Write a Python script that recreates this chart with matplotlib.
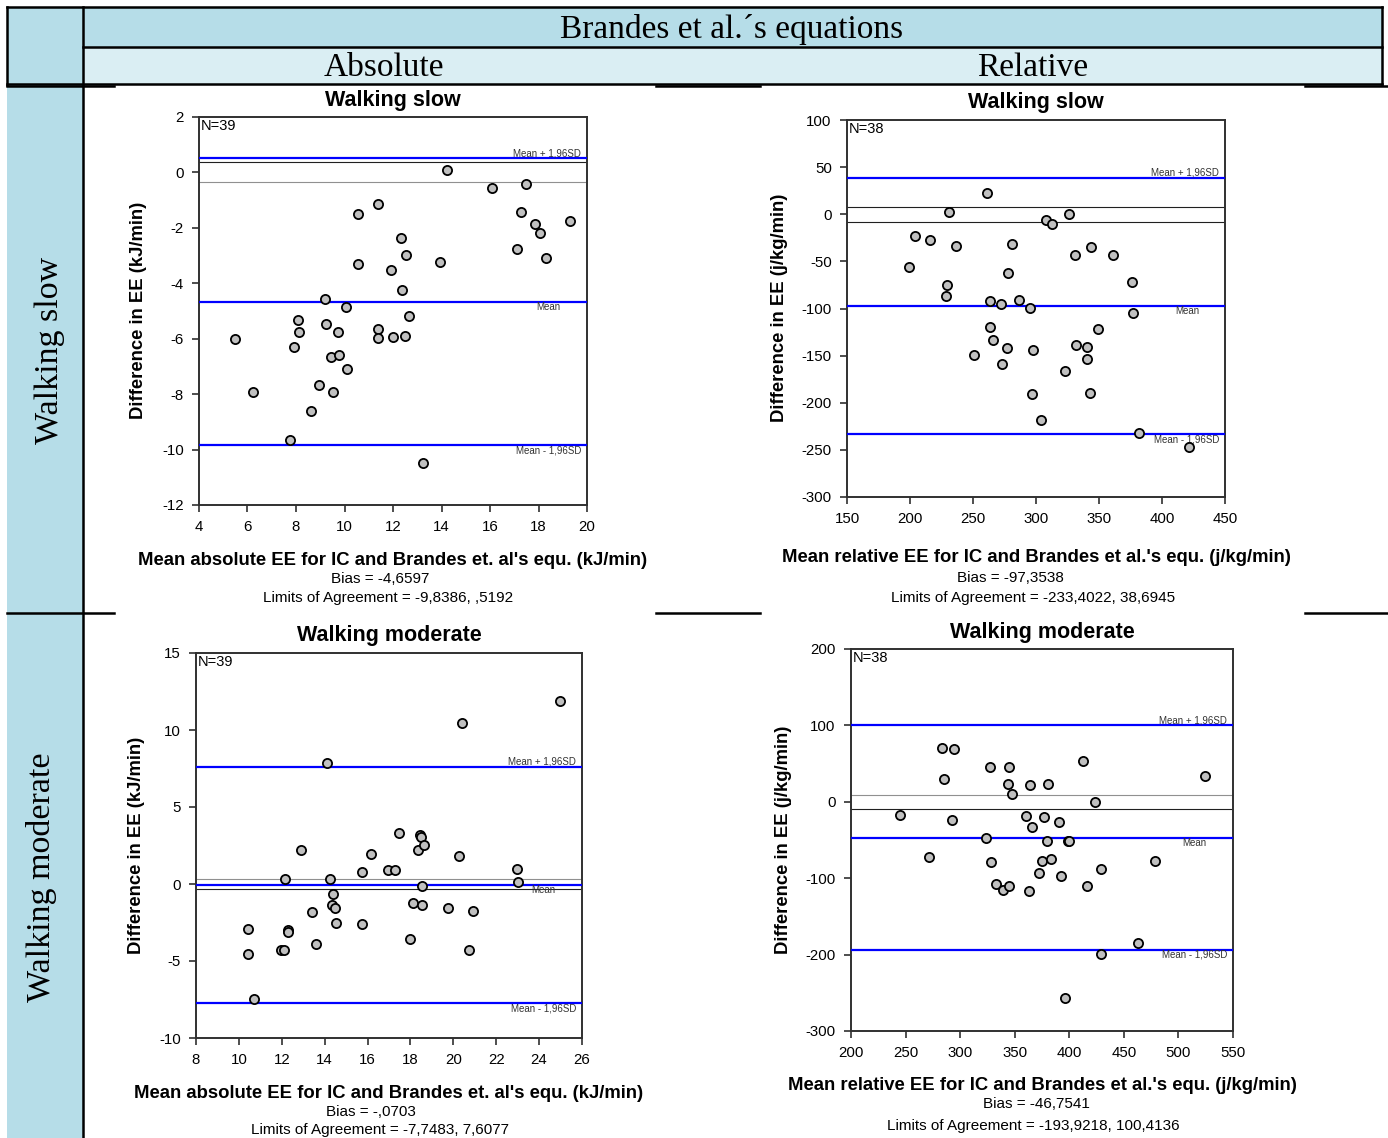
import numpy as np
import matplotlib.pyplot as plt
from matplotlib.patches import Rectangle

plt.rcParams['font.family'] = ['Liberation Sans', 'DejaVu Sans']
plt.rcParams['axes.unicode_minus'] = False

# Walking slow, absolute (kJ/min)
slow_abs_x = [5.48, 6.24, 7.75, 7.92, 8.07, 8.14, 8.62, 8.95, 9.18, 9.22, 9.43, 9.54, 9.75,
              9.79, 10.08, 10.12, 10.56, 10.56, 11.37, 11.40, 11.40, 11.92, 11.99, 12.32,
              12.39, 12.50, 12.55, 12.66, 13.25, 13.94, 14.21, 16.07, 17.10, 17.28, 17.48,
              17.86, 18.06, 18.31, 19.30]
slow_abs_y = [-6.02, -7.94, -9.66, -6.30, -5.33, -5.75, -8.62, -7.66, -4.57, -5.48, -6.66,
              -7.91, -5.75, -6.60, -4.87, -7.08, -1.49, -3.32, -1.15, -5.65, -5.99, -3.53,
              -5.95, -2.38, -4.23, -5.90, -2.99, -5.17, -10.47, -3.23, 0.10, -0.57, -2.76,
              -1.41, -0.43, -1.87, -2.18, -3.09, -1.74]

# Walking slow, relative (j/kg/min)
slow_rel_x = [199.2, 204.0, 215.9, 228.6, 229.6, 231.2, 236.8, 251.1, 260.9, 263.5, 263.5,
              265.6, 272.0, 273.0, 277.0, 277.8, 280.7, 286.3, 295.5, 296.9, 297.4, 304.2,
              307.9, 312.4, 323.3, 326.2, 331.2, 331.8, 340.2, 340.2, 343.1, 344.0, 349.0,
              361.4, 375.9, 376.7, 381.7, 421.7]
slow_rel_y = [-56.3, -22.7, -27.0, -86.4, -75.1, 2.1, -34.0, -149.3, 22.5, -91.7, -119.6,
              -133.8, -95.6, -158.9, -141.9, -62.0, -31.2, -90.6, -99.1, -190.7, -144.4,
              -218.0, -5.8, -10.3, -166.7, 0.0, -43.2, -138.4, -141.2, -153.2, -190.0, -34.7,
              -121.4, -43.2, -71.5, -105.1, -232.4, -246.6]

# Walking moderate, absolute (kJ/min)
mod_abs_x = [10.44, 10.44, 10.72, 11.95, 12.09, 12.17, 12.27, 12.30, 12.91, 13.41, 13.60,
             14.11, 14.23, 14.37, 14.34, 14.48, 14.51, 15.73, 15.73, 16.15, 16.97, 17.28,
             17.45, 17.97, 18.14, 18.37, 18.43, 18.48, 18.65, 18.54, 18.54, 19.75, 20.28,
             20.42, 20.72, 20.92, 22.97, 23.02, 24.98]
mod_abs_y = [-2.94, -4.55, -7.47, -4.27, -4.27, 0.34, -2.99, -3.12, 2.19, -1.80, -3.90,
             7.88, 0.32, -0.67, -1.36, -1.56, -2.53, 0.80, -2.60, 1.97, 0.91, 0.91, 3.31,
             -3.57, -1.23, 2.19, 3.20, 3.07, 2.53, -0.11, -1.36, -1.56, 1.84, 10.43, -4.27,
             -1.75, 0.99, 0.13, 11.86]

# Walking moderate, relative (j/kg/min)
mod_rel_x = [244.9, 271.8, 283.4, 285.5, 292.2, 294.1, 323.7, 327.7, 328.0, 332.9, 339.0,
             344.1, 344.5, 344.5, 347.5, 360.0, 363.1, 364.3, 365.8, 372.5, 375.3, 376.5,
             379.9, 380.8, 383.5, 390.9, 392.7, 396.1, 398.5, 399.7, 412.9, 416.0, 423.9,
             429.1, 429.4, 463.3, 478.9, 524.1]
mod_rel_y = [-16.9, -72.3, 70.8, 30.2, -23.8, 68.7, -47.0, 46.0, -78.4, -107.6, -115.0,
             23.3, 45.6, -109.8, 9.8, -18.2, -117.2, 22.4, -33.4, -93.2, -77.1, -19.5,
             -51.7, 22.8, -74.9, -26.4, -97.5, -256.4, -51.7, -51.7, 53.4, -109.8, 0.1,
             -88.0, -199.6, -184.8, -77.1, 33.8]

# bias and limits of agreement as printed
bias = [-4.6597, -97.3538, -0.0703, -46.7541]
loa_low = [-9.8386, -233.4022, -7.7483, -193.9218]
loa_high = [0.5192, 38.6945, 7.6077, 100.4136]
bias_txt = ['-4,6597', '-97,3538', '-,0703', '-46,7541']
loa_txt = ['-9,8386, ,5192', '-233,4022, 38,6945', '-7,7483, 7,6077', '-193,9218, 100,4136']
n_obs = [39, 38, 39, 38]
# thin reference lines near zero (upper, lower)
ref_up = [0.365, 8.0, 0.32, 9.0]
ref_dn = [-0.33, -8.0, -0.32, -10.0]
ref_up_col = ['#202020', '#202020', '#909090', '#909090']
ref_dn_col = ['#909090', '#202020', '#202020', '#202020']

titles = ['Walking slow', 'Walking slow', 'Walking moderate', 'Walking moderate']
xlabels = ["Mean absolute EE for IC and Brandes et. al's equ. (kJ/min)",
           "Mean relative EE for IC and Brandes et al.'s equ. (j/kg/min)",
           "Mean absolute EE for IC and Brandes et. al's equ. (kJ/min)",
           "Mean relative EE for IC and Brandes et al.'s equ. (j/kg/min)"]
ylabels = ['Difference in EE (kJ/min)', 'Difference in EE (j/kg/min)',
           'Difference in EE (kJ/min)', 'Difference in EE (j/kg/min)']
xlims = [(4, 20), (150, 450), (8, 26), (200, 550)]
ylims = [(-12, 2), (-300, 100), (-10, 15), (-300, 200)]
xsteps = [2, 50, 2, 50]
ysteps = [2, 50, 5, 100]

W, H = 1388, 1138
fig = plt.figure(figsize=(W / 100, H / 100), dpi=100)

# table background in pixel coordinates
bg = fig.add_axes([0, 0, 1, 1])
bg.set_xlim(0, W)
bg.set_ylim(H, 0)
bg.axis('off')
dark = '#b6dde8'
light = '#daeef3'
bg.add_patch(Rectangle((7, 7), 76, 78, color=dark, lw=0))
bg.add_patch(Rectangle((83, 7), 1299, 40, color=dark, lw=0))
bg.add_patch(Rectangle((83, 47), 1299, 37, color=light, lw=0))
bg.add_patch(Rectangle((7, 85), 76, H - 85, color=dark, lw=0))
lw = 1.8
bg.plot([7, 1382], [7, 7], color='black', lw=lw)
bg.plot([7, 7], [7, 85], color='black', lw=lw)
bg.plot([1382, 1382], [7, 84], color='black', lw=lw)
bg.plot([83, 1382], [47, 47], color='black', lw=lw)
bg.plot([7, 1382], [84, 84], color='black', lw=lw)
bg.plot([83, 83], [7, H], color='black', lw=lw)
for yy in [86, 613]:
    for a, b in [(7, 114), (656, 760), (1305, 1388)]:
        bg.plot([a, b], [yy, yy], color='black', lw=lw)

serif = 'Liberation Serif'
bg.text(732, 29, 'Brandes et al.\u00b4s equations', ha='center', va='center',
        family=serif, fontsize=24)
bg.text(384, 68, 'Absolute', ha='center', va='center', family=serif, fontsize=24)
bg.text(1033, 68, 'Relative', ha='center', va='center', family=serif, fontsize=24)
bg.text(50, 350, 'Walking slow', ha='center', va='center', rotation=90,
        family=serif, fontsize=24.5)
bg.text(42, 877, 'Walking moderate', ha='center', va='center', rotation=90,
        family=serif, fontsize=24.5)

# axes boxes (left, top, right, bottom) in pixels
boxes = [(199, 117, 587, 505), (847, 120, 1225, 497), (196, 653, 582, 1038), (851, 649, 1233, 1031)]
title_pos = [(393, 100), (1036, 102), (389, 635), (1042, 632)]
xlab_pos = [(393, 560), (1036, 557), (389, 1093), (1042, 1085)]
bias_pos = [(380, 579), (1010, 578), (371, 1112), (1036, 1104)]
loa_pos = [(388, 598), (1033, 598), (380, 1130), (1033, 1126)]
ylab_pos = [(139, 310), (780, 308), (137, 845), (784, 840)]

xs = [slow_abs_x, slow_rel_x, mod_abs_x, mod_rel_x]
ys = [slow_abs_y, slow_rel_y, mod_abs_y, mod_rel_y]

for i in range(4):
    l, t, r, b = boxes[i]
    ax = fig.add_axes([l / W, 1 - b / H, (r - l) / W, (b - t) / H])
    ax.axhline(ref_up[i], color=ref_up_col[i], lw=0.8, zorder=2)
    ax.axhline(ref_dn[i], color=ref_dn_col[i], lw=0.8, zorder=2)
    for v in [bias[i], loa_low[i], loa_high[i]]:
        ax.axhline(v, color='#0000ff', lw=1.6, zorder=3)
    ax.plot(xs[i], ys[i], 'o', ms=6.6, mfc='#c0c0c0', mec='black', mew=1.3, zorder=5)
    ax.set_xlim(*xlims[i])
    ax.set_ylim(*ylims[i])
    ax.set_xticks(np.arange(xlims[i][0], xlims[i][1] + 0.1, xsteps[i]))
    ax.set_yticks(np.arange(ylims[i][0], ylims[i][1] + 0.1, ysteps[i]))
    ax.tick_params(direction='out', length=5, width=1.2, labelsize=10.8, pad=6,
                   top=False, right=False, color='#303030')
    for s in ax.spines.values():
        s.set_color('#303030')
        s.set_linewidth(1.4)
    tr = ax.get_yaxis_transform()
    ax.text(0.985, loa_high[i], 'Mean + 1,96SD', transform=tr, ha='right', va='bottom',
            fontsize=7, color='#333333')
    ax.text(0.90, bias[i], 'Mean', transform=tr, ha='center', va='top',
            fontsize=7, color='#333333')
    ax.text(0.985, loa_low[i], 'Mean - 1,96SD', transform=tr, ha='right', va='top',
            fontsize=7, color='#333333')
    ax.text(0.005, 0.995, 'N=%d' % n_obs[i], transform=ax.transAxes, ha='left', va='top',
            fontsize=10.5)

    bg.text(*title_pos[i], titles[i], ha='center', va='center', fontsize=15.5, fontweight='bold')
    bg.text(*xlab_pos[i], xlabels[i], ha='center', va='center', fontsize=13.3, fontweight='bold')
    bg.text(*bias_pos[i], 'Bias = ' + bias_txt[i], ha='center', va='center', fontsize=11)
    bg.text(*loa_pos[i], 'Limits of Agreement = ' + loa_txt[i], ha='center', va='center',
            fontsize=11)
    bg.text(*ylab_pos[i], ylabels[i], ha='center', va='center', rotation=90,
            fontsize=13.3, fontweight='bold')

fig.savefig('out.png', dpi=100)
